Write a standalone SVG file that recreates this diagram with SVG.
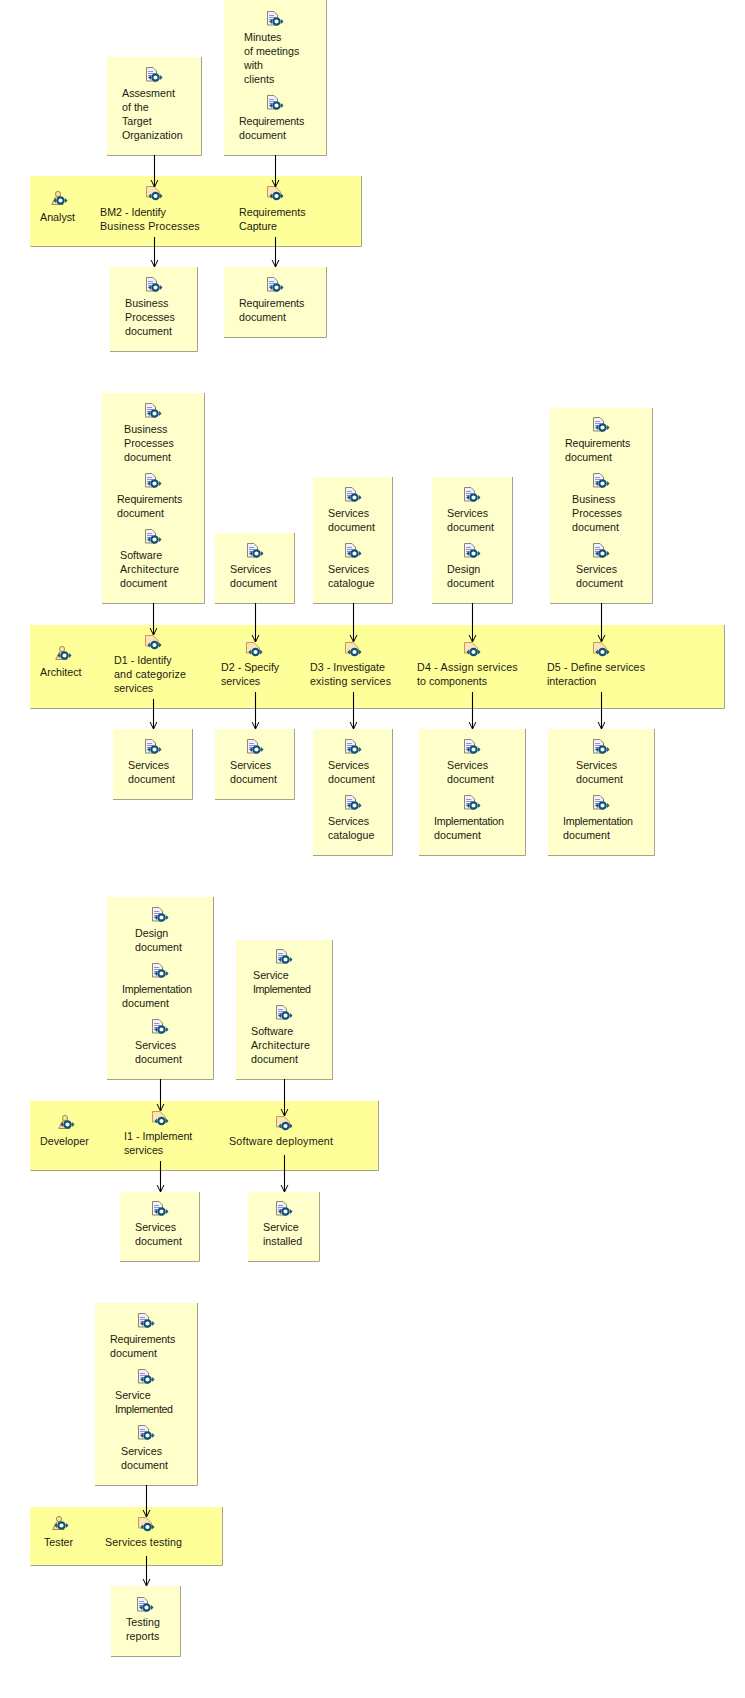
<svg xmlns="http://www.w3.org/2000/svg" width="745" height="1698" viewBox="0 0 745 1698">
<style>
.box{fill:#ffffcc}
.lane{fill:#ffff99}
.edge{fill:none;stroke:#a3a38c;stroke-width:1}
text{font-family:"Liberation Sans",Arial,sans-serif;font-size:10.7px;fill:#1a1a10}
.c{fill:none;stroke:#000;stroke-width:1.1;marker-end:url(#arr)}
</style>
<defs>
<marker id="arr" markerUnits="userSpaceOnUse" markerWidth="12" markerHeight="10" refX="9" refY="5" orient="auto"><path d="M2,1.6 L9,5 L2,8.4" fill="none" stroke="#000" stroke-width="1"/></marker>
<g id="cyc"><circle cx="0" cy="0" r="3.2" fill="#fff" stroke="#0f4f78" stroke-width="2.2"/><path d="M4.6,-2.6 L7,0 L4.6,2.6Z M-4.6,-2.6 L-7,0 L-4.6,2.6Z" fill="#0f4f78"/></g>
<g id="doc"><path d="M.5,.5 H7 L10.5,4 V14 H.5Z" fill="#f1f1fb" stroke="#8c8766"/><path d="M2,4.5H7M2,6.5H8M2,8.5H6M2,10.5H5" stroke="#8f8fd6" stroke-width="1"/><use href="#cyc" x="9.5" y="10.5"/></g>
<g id="task"><path d="M.5,.5 H8 L13.5,6 V11 H.5Z" fill="#fbe4b8" stroke="#c69a55"/><use href="#cyc" x="9.5" y="10"/></g>
<g id="role"><circle cx="7" cy="3" r="2.6" fill="#f7e3b0" stroke="#a88d3c"/><path d="M4.5,6 L.7,13.5 H12 L9.5,6Z" fill="#f7e3b0" stroke="#a88d3c"/><use href="#cyc" x="9.5" y="9.5"/></g>
</defs>

<g id="lanes">
<g id="analyst"><rect class="lane" x="30" y="176" width="331" height="70"/><path class="edge" d="M30.5,246.5H361.5V176"/><use href="#role" x="51" y="191"/><text x="40" y="221">Analyst</text></g>
<g id="architect"><rect class="lane" x="30" y="625" width="694" height="83"/><path class="edge" d="M30.5,708.5H724.5V625"/><use href="#role" x="55" y="646"/><text x="40" y="676">Architect</text></g>
<g id="developer"><rect class="lane" x="30" y="1101" width="348" height="69"/><path class="edge" d="M30.5,1170.5H378.5V1101"/><use href="#role" x="58" y="1115"/><text x="40" y="1145">Developer</text></g>
<g id="tester"><rect class="lane" x="30" y="1507" width="192" height="58"/><path class="edge" d="M30.5,1565.5H222.5V1507"/><use href="#role" x="52" y="1516"/><text x="44" y="1546">Tester</text></g>
</g>

<g id="a1"><use href="#task" x="146" y="186"/><text x="100" y="216">BM2 - Identify</text><text x="100" y="230" textLength="99.7">Business Processes</text></g>
<g id="a2"><use href="#task" x="267" y="186"/><text x="239" y="216">Requirements</text><text x="239" y="230">Capture</text></g>
<g id="d1"><use href="#task" x="145" y="635"/><text x="114" y="664">D1 - Identify</text><text x="114" y="678" textLength="72">and categorize</text><text x="114" y="692">services</text></g>
<g id="d2"><use href="#task" x="246" y="642"/><text x="221" y="671">D2 - Specify</text><text x="221" y="685">services</text></g>
<g id="d3"><use href="#task" x="345" y="642"/><text x="310" y="671" textLength="75">D3 - Investigate</text><text x="310" y="685" textLength="81">existing services</text></g>
<g id="d4"><use href="#task" x="464" y="642"/><text x="417" y="671" textLength="100.7">D4 - Assign services</text><text x="417" y="685">to components</text></g>
<g id="d5"><use href="#task" x="593" y="642"/><text x="547" y="671" textLength="98">D5 - Define services</text><text x="547" y="685">interaction</text></g>
<g id="i1"><use href="#task" x="152" y="1111"/><text x="124" y="1140">I1 - Implement</text><text x="124" y="1154">services</text></g>
<g id="i2"><use href="#task" x="276" y="1116"/><text x="229" y="1145" textLength="104">Software deployment</text></g>
<g id="t1"><use href="#task" x="138" y="1517"/><text x="105" y="1546" textLength="77">Services testing</text></g>

<g id="n1"><rect class="box" x="107" y="57" width="94" height="98"/><path class="edge" d="M107,155.5H201.5V57"/><use href="#doc" x="146" y="67"/><text x="122" y="97">Assesment</text><text x="122" y="111">of the</text><text x="122" y="125">Target</text><text x="122" y="139">Organization</text></g>
<g id="n2"><rect class="box" x="224" y="0" width="102" height="155"/><path class="edge" d="M224,155.5H326.5V0"/><use href="#doc" x="267" y="11"/><text x="244" y="41">Minutes</text><text x="244" y="55">of meetings</text><text x="244" y="69">with</text><text x="244" y="83">clients</text><use href="#doc" x="267" y="95"/><text x="239" y="125" textLength="65.3">Requirements</text><text x="239" y="139">document</text></g>
<g id="n3"><rect class="box" x="110" y="267" width="87" height="84"/><path class="edge" d="M110,351.5H197.5V267"/><use href="#doc" x="146" y="277"/><text x="125" y="307">Business</text><text x="125" y="321">Processes</text><text x="125" y="335">document</text></g>
<g id="n4"><rect class="box" x="224" y="267" width="102" height="70"/><path class="edge" d="M224,337.5H326.5V267"/><use href="#doc" x="267" y="277"/><text x="239" y="307" textLength="65.3">Requirements</text><text x="239" y="321">document</text></g>

<g id="n5"><rect class="box" x="102" y="393" width="102" height="210"/><path class="edge" d="M102,603.5H204.5V393"/><use href="#doc" x="145" y="403"/><text x="124" y="433">Business</text><text x="124" y="447">Processes</text><text x="124" y="461">document</text><use href="#doc" x="145" y="473"/><text x="117" y="503" textLength="65.3">Requirements</text><text x="117" y="517">document</text><use href="#doc" x="145" y="529"/><text x="120" y="559">Software</text><text x="120" y="573" textLength="59">Architecture</text><text x="120" y="587">document</text></g>
<g id="n6"><rect class="box" x="215" y="533" width="79" height="70"/><path class="edge" d="M215,603.5H294.5V533"/><use href="#doc" x="247" y="543"/><text x="230" y="573">Services</text><text x="230" y="587">document</text></g>
<g id="n7"><rect class="box" x="313" y="477" width="79" height="126"/><path class="edge" d="M313,603.5H392.5V477"/><use href="#doc" x="345" y="487"/><text x="328" y="517">Services</text><text x="328" y="531">document</text><use href="#doc" x="345" y="543"/><text x="328" y="573">Services</text><text x="328" y="587">catalogue</text></g>
<g id="n8"><rect class="box" x="432" y="477" width="80" height="126"/><path class="edge" d="M432,603.5H512.5V477"/><use href="#doc" x="464" y="487"/><text x="447" y="517">Services</text><text x="447" y="531">document</text><use href="#doc" x="464" y="543"/><text x="447" y="573">Design</text><text x="447" y="587">document</text></g>
<g id="n9"><rect class="box" x="550" y="408" width="102" height="195"/><path class="edge" d="M550,603.5H652.5V408"/><use href="#doc" x="593" y="417"/><text x="565" y="447" textLength="65.3">Requirements</text><text x="565" y="461">document</text><use href="#doc" x="593" y="473"/><text x="572" y="503">Business</text><text x="572" y="517">Processes</text><text x="572" y="531">document</text><use href="#doc" x="593" y="543"/><text x="576" y="573">Services</text><text x="576" y="587">document</text></g>

<g id="n10"><rect class="box" x="113" y="729" width="79" height="70"/><path class="edge" d="M113,799.5H192.5V729"/><use href="#doc" x="145" y="739"/><text x="128" y="769">Services</text><text x="128" y="783">document</text></g>
<g id="n11"><rect class="box" x="215" y="729" width="79" height="70"/><path class="edge" d="M215,799.5H294.5V729"/><use href="#doc" x="247" y="739"/><text x="230" y="769">Services</text><text x="230" y="783">document</text></g>
<g id="n12"><rect class="box" x="313" y="729" width="79" height="126"/><path class="edge" d="M313,855.5H392.5V729"/><use href="#doc" x="345" y="739"/><text x="328" y="769">Services</text><text x="328" y="783">document</text><use href="#doc" x="345" y="795"/><text x="328" y="825">Services</text><text x="328" y="839">catalogue</text></g>
<g id="n13"><rect class="box" x="419" y="729" width="107" height="126"/><path class="edge" d="M419,855.5H525.5V729"/><use href="#doc" x="464" y="739"/><text x="447" y="769">Services</text><text x="447" y="783">document</text><use href="#doc" x="464" y="795"/><text x="434" y="825" textLength="70">Implementation</text><text x="434" y="839">document</text></g>
<g id="n14"><rect class="box" x="548" y="729" width="107" height="126"/><path class="edge" d="M548,855.5H654.5V729"/><use href="#doc" x="593" y="739"/><text x="576" y="769">Services</text><text x="576" y="783">document</text><use href="#doc" x="593" y="795"/><text x="563" y="825" textLength="70">Implementation</text><text x="563" y="839">document</text></g>

<g id="n15"><rect class="box" x="107" y="897" width="106" height="182"/><path class="edge" d="M107,1079.5H213.5V897"/><use href="#doc" x="152" y="907"/><text x="135" y="937">Design</text><text x="135" y="951">document</text><use href="#doc" x="152" y="963"/><text x="122" y="993" textLength="70">Implementation</text><text x="122" y="1007">document</text><use href="#doc" x="152" y="1019"/><text x="135" y="1049">Services</text><text x="135" y="1063">document</text></g>
<g id="n16"><rect class="box" x="236" y="940" width="96" height="139"/><path class="edge" d="M236,1079.5H332.5V940"/><use href="#doc" x="276" y="949"/><text x="253" y="979">Service</text><text x="253" y="993" textLength="58">Implemented</text><use href="#doc" x="276" y="1005"/><text x="251" y="1035">Software</text><text x="251" y="1049" textLength="59">Architecture</text><text x="251" y="1063">document</text></g>
<g id="n17"><rect class="box" x="120" y="1192" width="79" height="69"/><path class="edge" d="M120,1261.5H199.5V1192"/><use href="#doc" x="152" y="1201"/><text x="135" y="1231">Services</text><text x="135" y="1245">document</text></g>
<g id="n18"><rect class="box" x="248" y="1192" width="71" height="69"/><path class="edge" d="M248,1261.5H319.5V1192"/><use href="#doc" x="276" y="1201"/><text x="263" y="1231">Service</text><text x="263" y="1245">installed</text></g>

<g id="n19"><rect class="box" x="95" y="1303" width="102" height="182"/><path class="edge" d="M95,1485.5H197.5V1303"/><use href="#doc" x="138" y="1313"/><text x="110" y="1343" textLength="65.3">Requirements</text><text x="110" y="1357">document</text><use href="#doc" x="138" y="1369"/><text x="115" y="1399">Service</text><text x="115" y="1413" textLength="58">Implemented</text><use href="#doc" x="138" y="1425"/><text x="121" y="1455">Services</text><text x="121" y="1469">document</text></g>
<g id="n20"><rect class="box" x="111" y="1586" width="69" height="70"/><path class="edge" d="M111,1656.5H180.5V1586"/><use href="#doc" x="137" y="1597"/><text x="126" y="1626">Testing</text><text x="126" y="1640">reports</text></g>

<g id="connectors">
<path class="c" d="M154.5,155V187"/><path class="c" d="M275.5,155V187"/><path class="c" d="M154.5,237V267"/><path class="c" d="M275.5,237V267"/>
<path class="c" d="M153.5,603V635"/><path class="c" d="M255.5,603V642"/><path class="c" d="M353.5,603V642"/><path class="c" d="M472.5,603V642"/><path class="c" d="M601.5,603V642"/>
<path class="c" d="M153.5,699V729"/><path class="c" d="M255.5,692V729"/><path class="c" d="M353.5,692V729"/><path class="c" d="M472.5,692V729"/><path class="c" d="M601.5,692V729"/>
<path class="c" d="M160.5,1079V1111"/><path class="c" d="M284.5,1079V1116"/><path class="c" d="M160.5,1161V1192"/><path class="c" d="M284.5,1155V1192"/>
<path class="c" d="M146.5,1485V1517"/><path class="c" d="M146.5,1556V1586"/>
</g>
</svg>
